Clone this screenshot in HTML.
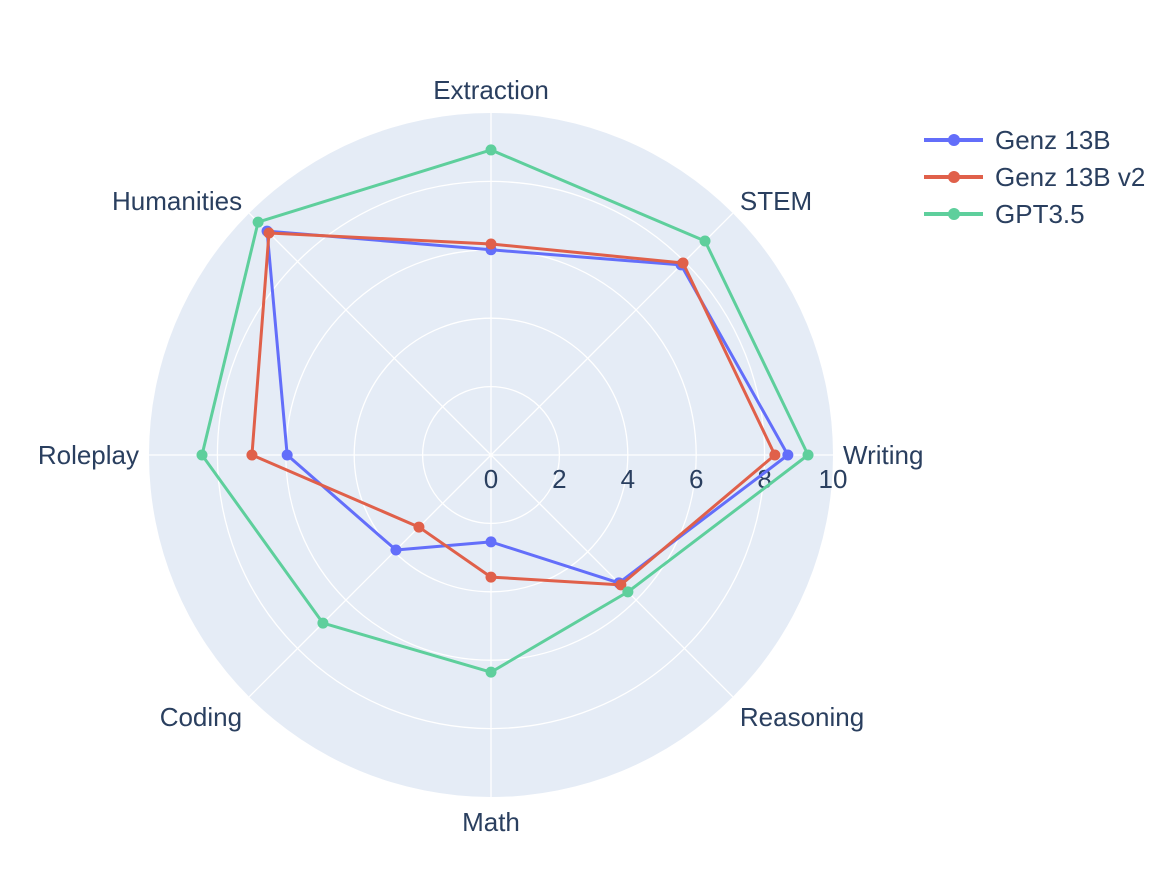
<!DOCTYPE html>
<html><head><meta charset="utf-8"><style>
body{margin:0;background:#fff;font-family:"Liberation Sans",sans-serif}
svg text{font-family:"Liberation Sans",sans-serif;fill:#2a3f5f}
</style></head><body>
<svg id="chart" width="1170" height="882" xmlns="http://www.w3.org/2000/svg"></svg>
<script>
const categories=["Writing","STEM","Extraction","Humanities","Roleplay","Coding","Math","Reasoning"];
const seriesNames=["Genz 13B","Genz 13B v2","GPT3.5"];
const genz13b=[8.68,7.86,6.0,9.26,5.96,3.93,2.54,5.29];
const genz13bv2=[8.3,7.94,6.17,9.18,6.99,2.98,3.57,5.37];
const gpt35=[9.27,8.85,8.92,9.63,8.45,6.95,6.35,5.66];
const radialTicks=[0,2,4,6,8,10];
const colors=["#636efa","#e0604a","#5ecf9c"];
const NS="http://www.w3.org/2000/svg";
const svg=document.getElementById('chart');
const cx=491,cy=455,R=342,rMax=10,FS=26;
function rs(v){return v/rMax*R;}
function ang(i){return i*2*Math.PI/categories.length;}
function pt(i,v){const a=ang(i);return [cx+rs(v)*Math.cos(a),cy-rs(v)*Math.sin(a)];}
function mk(tag,attrs,parent){const e=document.createElementNS(NS,tag);for(const k in attrs)e.setAttribute(k,attrs[k]);(parent||svg).appendChild(e);return e;}
const bg=mk('circle',{cx:cx,cy:cy,r:R,fill:'#e5ecf6'});


radialTicks.forEach(t=>{if(t>0&&t<rMax){const c=mk('circle',{cx:cx,cy:cy,r:rs(t),fill:'none',stroke:'#fff','stroke-width':1.3});

}});
categories.forEach((c,i)=>{const p=pt(i,rMax);const l=mk('line',{x1:cx,y1:cy,x2:p[0],y2:p[1],stroke:'#fff','stroke-width':1.3});


const a=ang(i);const lx=cx+(R+10)*Math.cos(a),ly=cy-(R+10)*Math.sin(a);
const cs=Math.cos(a),sn=Math.sin(a);
const anchor=Math.abs(cs)<0.1?'middle':(cs>0?'start':'end');
const dy=Math.abs(sn)<0.1?9:(sn>0?(Math.abs(cs)<0.1?-4:4):(Math.abs(cs)<0.1?24:22));
const t=mk('text',{x:lx,y:ly+dy,'text-anchor':anchor,'font-size':FS});t.textContent=c;

});
radialTicks.forEach(v=>{const t=mk('text',{x:cx+rs(v),y:cy+33,'text-anchor':'middle','font-size':FS});t.textContent=v;

});
const allSeries=[genz13b,genz13bv2,gpt35];
allSeries.forEach((s,k)=>{const pts=s.map((v,i)=>pt(i,v));pts.push(pts[0]);
const pl=mk('polyline',{points:pts.map(p=>p.join(',')).join(' '),fill:'none',stroke:colors[k],'stroke-width':3,'stroke-linejoin':'round'});


s.forEach((v,i)=>{const p=pt(i,v);const c=mk('circle',{cx:p[0],cy:p[1],r:5.5,fill:colors[k]});

});});
seriesNames.forEach((n,k)=>{const y=140+k*37;const g=mk('g',{});


mk('line',{x1:924,y1:y,x2:983,y2:y,stroke:colors[k],'stroke-width':4},g);
mk('circle',{cx:954,cy:y,r:6,fill:colors[k]},g);
const t=mk('text',{x:995,y:y+9,'font-size':FS},g);t.textContent=n;});
</script>
</body></html>
